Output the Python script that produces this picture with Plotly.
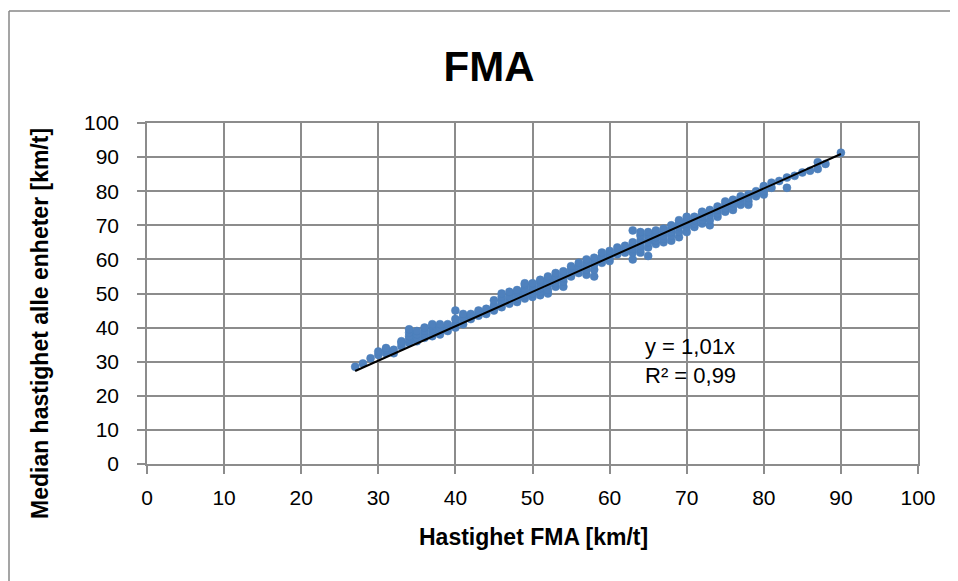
import plotly.graph_objects as go

# ---- data ----
fma_speed = [27, 28, 29, 30, 31, 32, 33, 34, 35, 36, 37, 38, 39, 40, 41, 42, 43, 44, 45,
             46, 47, 48, 49, 50, 51, 52, 53, 54, 55, 56, 57, 58, 59, 60, 61, 62, 63, 64,
             65, 66, 67, 68, 69, 70, 71, 72, 73, 74, 75, 76, 77, 78, 79, 80, 81, 82, 83,
             84, 85, 86, 87, 88, 90]
median_all_units = [
    [28.5], [29.5], [31], [32, 33], [32.5, 33.5, 34], [32.5, 33.5], [34.5, 35.5, 36],
    [35.5, 36.5, 37.5, 38.5, 39.5], [36, 37, 38, 39], [37, 38, 39, 40],
    [37.5, 38.5, 39.5, 40.5, 41], [38, 39, 40, 41], [39, 40, 41], [40, 41, 42.5, 45],
    [41, 42, 43, 44], [42.5, 43.5, 44], [43.5, 44.5, 45], [44, 45, 45.5],
    [45, 46, 46.5, 48], [46, 47, 48, 49, 50], [47, 48, 49, 50.5],
    [47.5, 48.5, 49.5, 50.5, 51], [48.5, 49.5, 50.5, 51.5, 52.5, 53],
    [49, 50, 51, 52, 53], [49.5, 50.5, 51.5, 52.5, 53.5, 54],
    [50, 51, 52.5, 53.5, 54.5, 55], [52, 53, 54, 55, 56], [52, 53.5, 54.5, 55.5, 56.5],
    [55, 56, 57, 58], [56, 57, 58, 59], [55.5, 57, 58, 59, 60], [55, 57, 58.5, 59.5, 60.5],
    [59, 60, 61, 62], [59.5, 60.5, 61.5, 62.5], [61.5, 62.5, 63.5], [62, 63, 64],
    [60, 62, 63, 64, 65, 68.5], [62, 63, 64, 65.5, 67, 68], [61, 63.5, 65, 66, 67, 68],
    [64.5, 65.5, 66.5, 67.5, 68.5], [65, 66, 67, 68, 69], [65.5, 67, 68, 69, 70],
    [66.5, 68, 69.5, 70.5, 71.5], [68, 69.5, 70.5, 71.5, 72.5], [69.5, 70.5, 71.5, 72.5],
    [70.5, 71.5, 72.5, 73.5, 74], [70, 71.5, 73, 74, 74.5], [72.5, 73.5, 74.5, 75.5],
    [74, 75, 76, 77], [74.5, 75.5, 76.5, 77.5], [76, 77, 78, 78.5], [76, 77, 78, 79],
    [78.5, 79.5, 80], [79, 80, 81, 81.5], [81, 82.5], [83], [81, 84], [84.5], [85.5],
    [86], [86.5, 88.5], [88], [91.3],
]
trend_slope = 1.01
r_squared_label = "0,99"
slope_label = "1,01"
axis_ticks = [0, 10, 20, 30, 40, 50, 60, 70, 80, 90, 100]

chart_title = "FMA"
x_title = "Hastighet FMA [km/t]"
y_title = "Median hastighet alle enheter [km/t]"

# ---- build ----
xs, ys = [], []
for xv, ylist in zip(fma_speed, median_all_units):
    for yv in ylist:
        xs.append(xv)
        ys.append(yv)

x_line = [min(fma_speed), max(fma_speed)]
y_line = [trend_slope * v for v in x_line]

FONT = "Liberation Sans"
GRID = "#8c8c8c"
BLUE = "#4F81BD"

fig = go.Figure()
fig.add_trace(go.Scatter(x=xs, y=ys, mode="markers",
                         marker=dict(size=8, color=BLUE, line=dict(width=0.5, color="#4A7EBB")),
                         showlegend=False, hoverinfo="skip"))
fig.add_trace(go.Scatter(x=x_line, y=y_line, mode="lines",
                         line=dict(color="black", width=2), showlegend=False, hoverinfo="skip"))

OFF = 8  # page body margin
W, H = 958 - OFF, 581 - OFF
L, T = 147 - OFF, 123 - OFF
pw, ph = 771, 341
R, B = W - L - pw, H - T - ph


def px_x(p):
    return (p - OFF - L) / pw


def px_y(p):
    return (T + ph - (p - OFF)) / ph


axis_common = dict(range=[0, 100], tickvals=axis_ticks, showgrid=True, gridcolor=GRID,
                   gridwidth=1.5, showline=True, linecolor=GRID, linewidth=1.5, mirror=True,
                   ticks="outside", ticklen=8, tickcolor=GRID, tickwidth=1.5, zeroline=False,
                   tickfont=dict(family=FONT, size=21, color="black"))

fig.update_xaxes(**axis_common, ticklabelstandoff=6)
fig.update_yaxes(**axis_common, ticklabelstandoff=14)

border = dict(color="#878787", width=1.5)
fig.update_layout(
    width=W, height=H,
    margin=dict(l=L, r=R, t=T, b=B, autoexpand=False),
    paper_bgcolor="white", plot_bgcolor="white",
    title=dict(text="<b>%s</b>" % chart_title, x=(489 - OFF) / W,
               xanchor="center", y=1 - (66 - OFF) / H, yanchor="middle",
               font=dict(family=FONT, size=42, color="black")),
    shapes=[
        dict(type="line", xref="paper", yref="paper", x0=px_x(9), x1=px_x(958),
             y0=px_y(11), y1=px_y(11), line=border, layer="below"),
        dict(type="line", xref="paper", yref="paper", x0=px_x(9), x1=px_x(9),
             y0=px_y(11), y1=px_y(581), line=border, layer="below"),
    ],
    annotations=[
        dict(text="<b>%s</b>" % x_title, xref="paper", yref="paper",
             x=px_x(533), y=px_y(537), xanchor="center", yanchor="middle", showarrow=False,
             font=dict(family=FONT, size=23, color="black")),
        dict(text="<b>%s</b>" % y_title, xref="paper", yref="paper", textangle=-90,
             x=px_x(40), y=px_y(324), xanchor="center", yanchor="middle", showarrow=False,
             font=dict(family=FONT, size=23, color="black")),
        dict(text="y = %sx<br>R² = %s" % (slope_label, r_squared_label), xref="paper",
             yref="paper", x=px_x(643), y=px_y(361), xanchor="left", yanchor="middle",
             align="left", showarrow=False,
             font=dict(family=FONT, size=22, color="black")),
    ],
)

fig.write_html("out.html")
